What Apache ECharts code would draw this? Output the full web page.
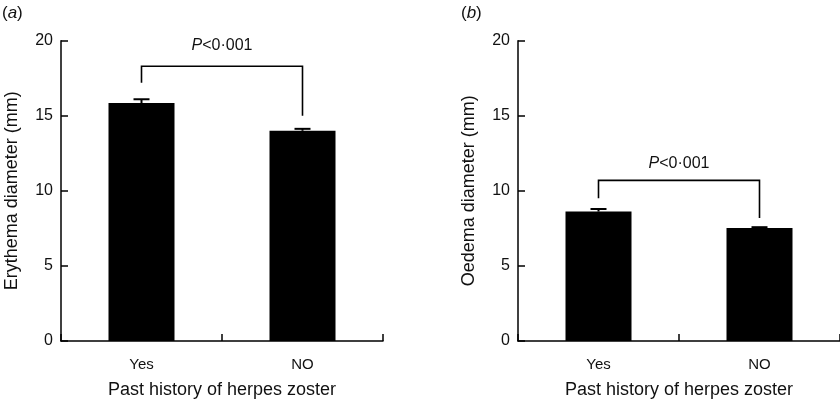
<!DOCTYPE html>
<html>
<head>
<meta charset="utf-8">
<script src="https://cdn.jsdelivr.net/npm/echarts@6/dist/echarts.min.js"></script>
<style>
html,body{margin:0;padding:0;background:#fff;}
#c{width:840px;height:404px;}
</style>
</head>
<body>
<div id="c"></div>
<script>
// ---- data ----
const categories = ['Yes', 'NO'];
const erythemaMean = [15.85, 14.0];
const erythemaErr = [0.25, 0.13];
const oedemaMean = [8.62, 7.52];
const oedemaErr = [0.17, 0.06];
// bracket: [left leg end, top, right leg end]
const bracketA = [17.2, 18.3, 15.0];
const bracketB = [9.5, 10.7, 8.2];
const pLabel = 'P<0·001';
const yTicks = { min: 0, max: 20, interval: 5 };
const panelLabels = ['a', 'b'];
const yNames = ['Erythema diameter (mm)', 'Oedema diameter (mm)'];
const xName = 'Past history of herpes zoster';

const FONT = 'Liberation Sans, Arial, Helvetica, sans-serif';
const TXT = '#111';
const chart = echarts.init(document.getElementById('c'), null, { renderer: 'canvas' });

function xAxis(gi) {
  return {
    type: 'category', gridIndex: gi, data: categories,
    name: xName, nameLocation: 'middle', nameGap: 40,
    nameTextStyle: { fontFamily: FONT, fontSize: 18, color: TXT },
    axisLine: { lineStyle: { color: '#000', width: 1.5 } },
    axisTick: { show: true, inside: true, length: 7, alignWithLabel: false, lineStyle: { color: '#000', width: 1.5 } },
    axisLabel: { fontFamily: FONT, fontSize: 15, color: TXT, margin: 16 },
    splitLine: { show: false }
  };
}
function yAxis(gi) {
  return {
    type: 'value', gridIndex: gi, min: yTicks.min, max: yTicks.max, interval: yTicks.interval,
    name: yNames[gi], nameLocation: 'middle', nameGap: 40, nameRotate: 90,
    nameTextStyle: { fontFamily: FONT, fontSize: 18, color: TXT },
    axisLine: { show: true, lineStyle: { color: '#000', width: 1.5 } },
    axisTick: { show: true, inside: true, length: 7, lineStyle: { color: '#000', width: 1.5 } },
    axisLabel: { fontFamily: FONT, fontSize: 16, color: TXT, margin: 8 },
    splitLine: { show: false }
  };
}
function errSeries(gi, mean, err) {
  return {
    type: 'custom', xAxisIndex: gi, yAxisIndex: gi, z: 1,
    data: mean.map((m, i) => [i, m, m + err[i]]),
    renderItem: function (params, api) {
      const b = api.coord([api.value(0), api.value(1)]);
      const t = api.coord([api.value(0), api.value(2)]);
      return {
        type: 'group', children: [
          { type: 'line', shape: { x1: b[0], y1: b[1], x2: t[0], y2: t[1] }, style: { stroke: '#000', lineWidth: 2 } },
          { type: 'line', shape: { x1: t[0] - 8, y1: t[1], x2: t[0] + 8, y2: t[1] }, style: { stroke: '#000', lineWidth: 2 } }
        ]
      };
    }
  };
}
function bracketSeries(gi, br, textGap) {
  return {
    type: 'custom', xAxisIndex: gi, yAxisIndex: gi,
    data: [br],
    renderItem: function (params, api) {
      const p1 = api.coord([0, api.value(0)]);
      const p2 = api.coord([0, api.value(1)]);
      const p3 = api.coord([1, api.value(1)]);
      const p4 = api.coord([1, api.value(2)]);
      return {
        type: 'group', children: [
          { type: 'polyline', shape: { points: [p1, p2, p3, p4] }, style: { stroke: '#000', lineWidth: 1.6, fill: null } },
          { type: 'text', x: (p2[0] + p3[0]) / 2, y: p2[1] - textGap,
            style: { text: '{i|P}{n|<0·001}', textAlign: 'center', textVerticalAlign: 'middle',
              rich: { i: { fontFamily: FONT, fontSize: 16, fontStyle: 'italic', fill: TXT }, n: { fontFamily: FONT, fontSize: 16, fill: TXT } } } }
        ]
      };
    }
  };
}

const option = {
  backgroundColor: '#fff',
  animation: false,
  grid: [
    { left: 61, right: 457, top: 40.7, bottom: 60 },
    { left: 518, right: 0, top: 40.7, bottom: 60 }
  ],
  xAxis: [xAxis(0), xAxis(1)],
  yAxis: [yAxis(0), yAxis(1)],
  graphic: [
    { type: 'text', left: 2, top: 5, style: { text: '({i|' + panelLabels[0] + '})', font: '17px ' + FONT, fill: TXT, rich: { i: { fontStyle: 'italic', fontFamily: FONT, fontSize: 17 } } } },
    { type: 'text', left: 461, top: 5, style: { text: '({i|' + panelLabels[1] + '})', font: '17px ' + FONT, fill: TXT, rich: { i: { fontStyle: 'italic', fontFamily: FONT, fontSize: 17 } } } }
  ],
  series: [
    { type: 'bar', xAxisIndex: 0, yAxisIndex: 0, data: erythemaMean, barWidth: 66, itemStyle: { color: '#000' }, z: 2 },
    errSeries(0, erythemaMean, erythemaErr),
    bracketSeries(0, bracketA, 21),
    { type: 'bar', xAxisIndex: 1, yAxisIndex: 1, data: oedemaMean, barWidth: 66, itemStyle: { color: '#000' }, z: 2 },
    errSeries(1, oedemaMean, oedemaErr),
    bracketSeries(1, bracketB, 17)
  ]
};
chart.setOption(option);
</script>
</body>
</html>
